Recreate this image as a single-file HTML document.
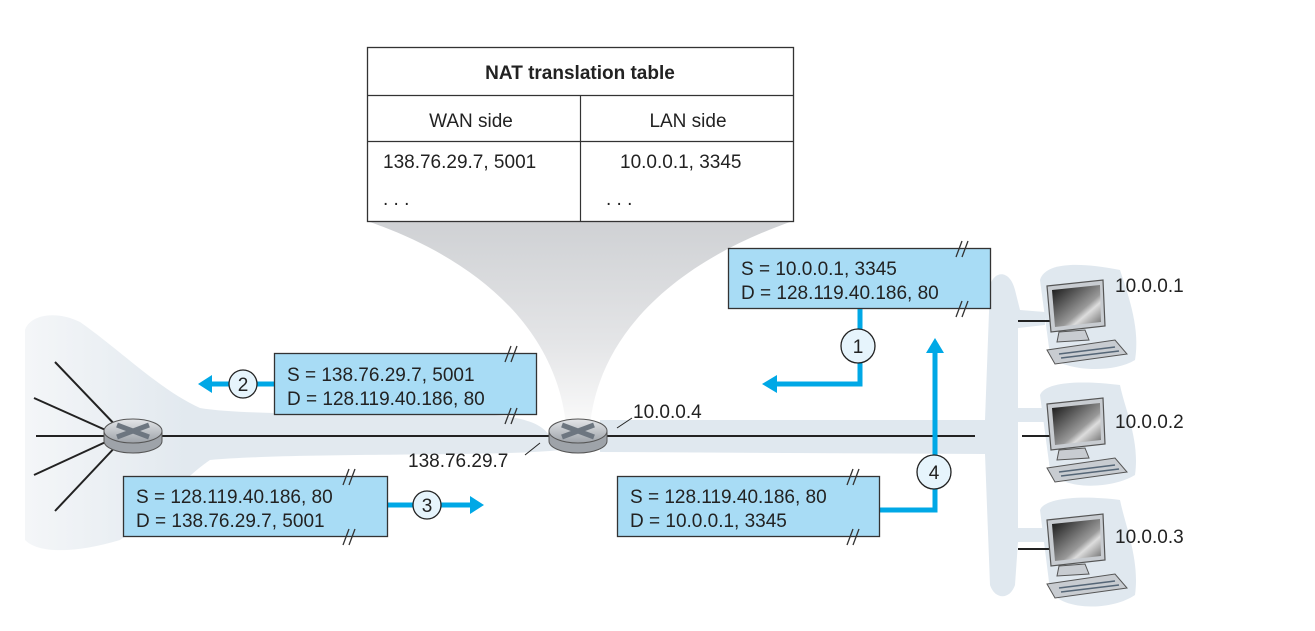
<!DOCTYPE html>
<html><head><meta charset="utf-8"><style>
html,body{margin:0;padding:0;background:#fff;}
svg{display:block;}
text{font-family:"Liberation Sans","DejaVu Sans",sans-serif;fill:#222;}
</style></head><body>
<svg width="1315" height="631" viewBox="0 0 1315 631" xmlns="http://www.w3.org/2000/svg">
<defs>
<linearGradient id="fun" x1="0" y1="0" x2="0" y2="1">
<stop offset="0" stop-color="#cfd1d4"/><stop offset="0.6" stop-color="#e4e5e7"/><stop offset="1" stop-color="#fafafa"/>
</linearGradient>
<linearGradient id="lc" x1="0" y1="0" x2="1" y2="0">
<stop offset="0" stop-color="#f4f6f8"/><stop offset="0.3" stop-color="#e2e9ef"/><stop offset="1" stop-color="#e2e9ef"/>
</linearGradient>
<linearGradient id="scr" x1="0" y1="0" x2="1" y2="1">
<stop offset="0" stop-color="#111"/><stop offset="0.6" stop-color="#999"/><stop offset="0.7" stop-color="#ddd"/><stop offset="1" stop-color="#666"/>
</linearGradient>
<linearGradient id="rt" x1="0" y1="0" x2="0" y2="1">
<stop offset="0" stop-color="#e4e6e9"/><stop offset="1" stop-color="#9da2a8"/>
</linearGradient>
<g id="pc">
<path d="M2 12 L58 6 L60 52 L6 58 Z" fill="#c8ccd1" stroke="#555" stroke-width="1.2"/>
<path d="M7 16 L55 11 L56 48 L10 53 Z" fill="url(#scr)"/>
<path d="M14 58 L40 56 L44 66 L12 68 Z" fill="#c8ccd1" stroke="#555"/>
<path d="M2 76 L70 66 L82 80 L10 90 Z" fill="#c8ccd1" stroke="#555"/>
<line x1="14" y1="80" x2="70" y2="73" stroke="#567" stroke-width="1.5"/>
<line x1="16" y1="84" x2="74" y2="77" stroke="#567" stroke-width="1.5"/>
</g>
<g id="router">
<path d="M-29 0 L-29 10 A29 12 0 0 0 29 10 L29 0 Z" fill="#9ea3a9" stroke="#555"/>
<ellipse cx="0" cy="0" rx="29" ry="12" fill="url(#rt)" stroke="#555"/>
<path d="M-16 -6 L16 6 M16 -6 L-16 6" stroke="#6d7680" stroke-width="5"/>
</g>
</defs>

<!-- funnel -->
<path d="M367 221 L793 221 C680 260 600 330 590 425 L566 425 C556 330 480 260 367 221 Z" fill="url(#fun)"/>

<!-- left cloud -->
<path d="M25 330 C30 315 55 310 80 322 C120 350 160 390 200 408 C260 418 420 410 480 414 C560 418 545 440 560 450 C500 457 300 452 210 460 C180 480 150 520 120 540 C80 552 40 555 25 540 Z" fill="url(#lc)"/>
<!-- LAN shapes -->
<path d="M600 420 L985 420 L990 285 C995 270 1010 270 1015 290 L1020 310 L1045 312 L1045 325 L1018 328 L1018 408 L1045 408 L1045 422 L1018 422 L1018 445 L1018 528 L1045 528 L1045 542 L1018 542 L1015 585 C1010 600 995 600 990 585 L985 454 L600 452 Z" fill="#e0e8ef"/>
<path d="M1040 280 C1045 262 1080 262 1120 270 C1130 300 1140 330 1135 360 C1110 375 1060 370 1050 355 Z" fill="#e0e8ef"/>
<path d="M1040 395 C1045 382 1080 380 1120 385 C1125 410 1140 440 1135 475 C1110 490 1060 490 1050 470 Z" fill="#e0e8ef"/>
<path d="M1040 510 C1045 498 1080 495 1120 500 C1125 525 1140 560 1135 595 C1110 612 1060 610 1050 590 Z" fill="#e0e8ef"/>

<!-- table -->
<rect x="367.5" y="47.5" width="426" height="174" fill="#fff" stroke="#333" stroke-width="1.3"/>
<line x1="367" y1="95.5" x2="793" y2="95.5" stroke="#333" stroke-width="1.2"/>
<line x1="367" y1="141.5" x2="793" y2="141.5" stroke="#333" stroke-width="1.2"/>
<line x1="580.5" y1="95" x2="580.5" y2="221" stroke="#333" stroke-width="1.2"/>
<text x="580" y="79" font-size="19" font-weight="bold" text-anchor="middle">NAT translation table</text>
<text x="471" y="127" font-size="19" text-anchor="middle">WAN side</text>
<text x="688" y="127" font-size="19" text-anchor="middle">LAN side</text>
<text x="383" y="168" font-size="19">138.76.29.7, 5001</text>
<text x="620" y="168" font-size="19">10.0.0.1, 3345</text>
<text x="383" y="205" font-size="19">. . .</text>
<text x="606" y="205" font-size="19">. . .</text>

<!-- left spokes -->
<g stroke="#222" stroke-width="2">
<line x1="36" y1="436" x2="975" y2="436"/>
<line x1="55" y1="362" x2="120" y2="430"/>
<line x1="34" y1="398" x2="110" y2="432"/>
<line x1="34" y1="475" x2="110" y2="440"/>
<line x1="55" y1="511" x2="120" y2="442"/>
<line x1="1018" y1="321" x2="1050" y2="321"/>
<line x1="1022" y1="436" x2="1050" y2="436"/>
<line x1="1018" y1="549" x2="1050" y2="549"/>
</g>
<use href="#router" x="133" y="431"/>
<use href="#router" x="578" y="431"/>
<line x1="525" y1="455" x2="540" y2="443" stroke="#222" stroke-width="1"/>
<line x1="617" y1="428" x2="632" y2="418" stroke="#222" stroke-width="1"/>
<text x="633" y="418" font-size="19">10.0.0.4</text>
<text x="408" y="467" font-size="19">138.76.29.7</text>

<!-- computers -->
<use href="#pc" x="1045" y="274"/>
<use href="#pc" x="1045" y="392"/>
<use href="#pc" x="1045" y="508"/>
<text x="1115" y="292" font-size="19">10.0.0.1</text>
<text x="1115" y="428" font-size="19">10.0.0.2</text>
<text x="1115" y="543" font-size="19">10.0.0.3</text>

<!-- arrows -->
<g stroke="#00a8e6" stroke-width="5" fill="none">
<path d="M274 384 L210 384"/>
<path d="M387 505 L470 505"/>
<path d="M860 308 L860 384 L775 384"/>
<path d="M879 510 L935 510 L935 352"/>
</g>
<g fill="#00a8e6">
<path d="M198 384 L212 375 L212 393 Z"/>
<path d="M484 505 L470 496 L470 514 Z"/>
<path d="M762 384 L777 375 L777 393 Z"/>
<path d="M935 338 L926 353 L944 353 Z"/>
</g>

<!-- boxes -->
<g fill="#a8dcf5" stroke="#333" stroke-width="1.3">
<rect x="274.5" y="353.5" width="262" height="61"/>
<rect x="123.5" y="476.5" width="264" height="60"/>
<rect x="728.5" y="248.5" width="262" height="60"/>
<rect x="617.5" y="476.5" width="262" height="60"/>
</g>
<g font-size="19">
<text x="287" y="381">S = 138.76.29.7, 5001</text>
<text x="287" y="405">D = 128.119.40.186, 80</text>
<text x="136" y="503">S = 128.119.40.186, 80</text>
<text x="136" y="527">D = 138.76.29.7, 5001</text>
<text x="741" y="275">S = 10.0.0.1, 3345</text>
<text x="741" y="299">D = 128.119.40.186, 80</text>
<text x="630" y="503">S = 128.119.40.186, 80</text>
<text x="630" y="527">D = 10.0.0.1, 3345</text>
</g>
<!-- break marks -->
<g stroke="#333" stroke-width="1.3">
<path d="M505 362 L511 346 M511 362 L517 346"/>
<path d="M505 424 L511 408 M511 424 L517 408"/>
<path d="M343 485 L349 469 M349 485 L355 469"/>
<path d="M343 545 L349 529 M349 545 L355 529"/>
<path d="M956 257 L962 241 M962 257 L968 241"/>
<path d="M956 317 L962 301 M962 317 L968 301"/>
<path d="M847 485 L853 469 M853 485 L859 469"/>
<path d="M847 545 L853 529 M853 545 L859 529"/>
</g>
<!-- circles -->
<g fill="#e6f4fc" stroke="#222" stroke-width="1.3">
<circle cx="243" cy="384" r="14"/>
<circle cx="427" cy="505" r="14"/>
<circle cx="858" cy="346" r="17"/>
<circle cx="934" cy="472" r="17"/>
</g>
<g font-size="19" text-anchor="middle">
<text x="243" y="391">2</text>
<text x="427" y="512">3</text>
<text x="858" y="353">1</text>
<text x="934" y="479">4</text>
</g>
</svg>
</body></html>
